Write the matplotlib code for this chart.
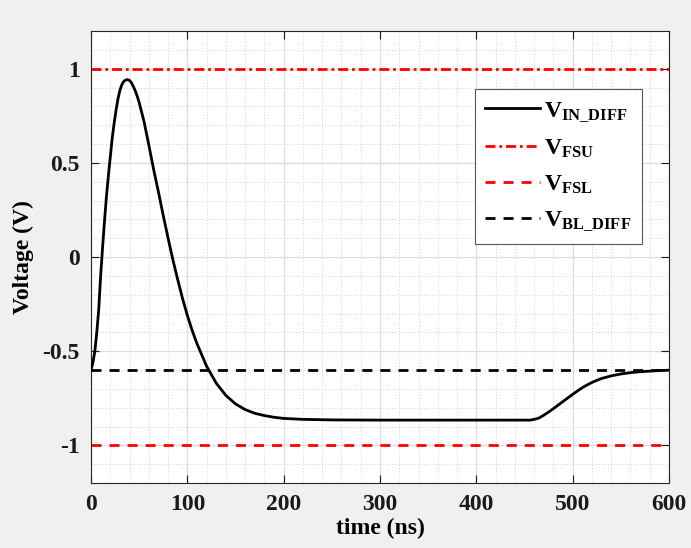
import matplotlib.pyplot as plt
from matplotlib.ticker import MultipleLocator

# temps (ns) et tension differentielle d'entree (V)
t_ns = [0, 2, 4, 6, 8, 10, 12, 14, 16, 18, 20, 22, 24, 26, 28, 30, 32, 34, 36, 38,
        40, 42, 44, 46, 48, 50, 52, 55, 60, 65, 70, 75, 80, 85, 90, 95, 100, 105,
        110, 115, 120, 125, 130, 140, 150, 160, 170, 180, 190, 200, 220, 250, 300,
        350, 400, 450, 456, 460, 465, 470, 475, 480, 485, 490, 495, 500, 505, 510,
        515, 520, 525, 530, 540, 550, 560, 570, 580, 590, 600]
v_in_diff = [-0.60, -0.56, -0.50, -0.40, -0.28, -0.10, 0.05, 0.19, 0.32, 0.43, 0.53,
             0.63, 0.71, 0.78, 0.84, 0.885, 0.915, 0.932, 0.940, 0.942, 0.938, 0.925,
             0.905, 0.882, 0.853, 0.82, 0.78, 0.72, 0.595, 0.465, 0.345, 0.22, 0.10,
             -0.015, -0.12, -0.22, -0.31, -0.39, -0.46, -0.52, -0.58, -0.625, -0.67,
             -0.735, -0.78, -0.81, -0.83, -0.842, -0.851, -0.857, -0.862, -0.865,
             -0.866, -0.866, -0.866, -0.866, -0.866, -0.862, -0.855, -0.84, -0.823,
             -0.805, -0.786, -0.767, -0.748, -0.729, -0.711, -0.694, -0.679, -0.666,
             -0.655, -0.645, -0.631, -0.621, -0.614, -0.609, -0.606, -0.603, -0.601]

# niveaux constants
v_fsu = 1.0
v_fsl = -1.0
v_bl_diff = -0.6
t_range = [0, 600]

labels = [r'$\mathbf{V_{IN\_DIFF}}$', r'$\mathbf{V_{FSU}}$',
          r'$\mathbf{V_{FSL}}$', r'$\mathbf{V_{BL\_DIFF}}$']

plt.rcParams['font.family'] = ['Liberation Serif', 'DejaVu Serif']
plt.rcParams['font.weight'] = 'bold'
plt.rcParams['mathtext.fontset'] = 'custom'
plt.rcParams['mathtext.rm'] = 'Liberation Serif:bold'
plt.rcParams['mathtext.it'] = 'Liberation Serif:bold'
plt.rcParams['mathtext.bf'] = 'Liberation Serif:bold'

fig = plt.figure(figsize=(6.91, 5.48), dpi=100, facecolor='#f0f0f0')
ax = fig.add_axes([0.1317, 0.1186, 0.8365, 0.8248])

lw = 2.0
ax.plot(t_ns, v_in_diff, color='black', lw=lw, label=labels[0], zorder=5)
ax.plot(t_range, [v_fsu, v_fsu], color='red', lw=lw, dashes=(3.6, 1.4, 1.0, 1.4), label=labels[1])
ax.plot(t_range, [v_fsl, v_fsl], color='red', lw=lw, dashes=(3.6, 2.9), label=labels[2])
ax.plot(t_range, [v_bl_diff, v_bl_diff], color='black', lw=lw, dashes=(3.6, 2.9), label=labels[3])

ax.set_xlim(0, 600)
ax.set_ylim(-1.2, 1.2)
ax.xaxis.set_major_locator(MultipleLocator(100))
ax.xaxis.set_minor_locator(MultipleLocator(20))
ax.yaxis.set_major_locator(MultipleLocator(0.5))
ax.yaxis.set_minor_locator(MultipleLocator(0.1))
ax.set_yticks([-1, -0.5, 0, 0.5, 1])
ax.set_yticklabels(['-1', '-0.5', '0', '0.5', '1'])

ax.grid(which='major', color='#dcdcdc', lw=0.9, ls='-')
ax.grid(which='minor', color='#d0d0d0', lw=0.7, ls=(0, (1, 2)))
ax.set_axisbelow(True)

ax.tick_params(which='major', direction='in', length=6, width=0.8, top=True, right=True,
               labelsize=17, colors='#1a1a1a', pad=8)
ax.tick_params(which='minor', length=0, top=True, right=True)
for s in ax.spines.values():
    s.set_color('#262626')
    s.set_linewidth(0.8)

ax.set_xlabel('time (ns)', fontsize=17, fontweight='bold', labelpad=2)
ax.set_ylabel('Voltage (V)', fontsize=17, fontweight='bold', labelpad=6)

leg = ax.legend(loc='upper right', bbox_to_anchor=(0.954, 0.871), fontsize=17,
                fancybox=False, framealpha=1, edgecolor='#555555',
                handlelength=2.3, handletextpad=0.2, labelspacing=0.58,
                borderpad=0.45, borderaxespad=0)
leg.get_frame().set_linewidth(0.8)

fig.savefig('out.png', dpi=100, facecolor=fig.get_facecolor())
